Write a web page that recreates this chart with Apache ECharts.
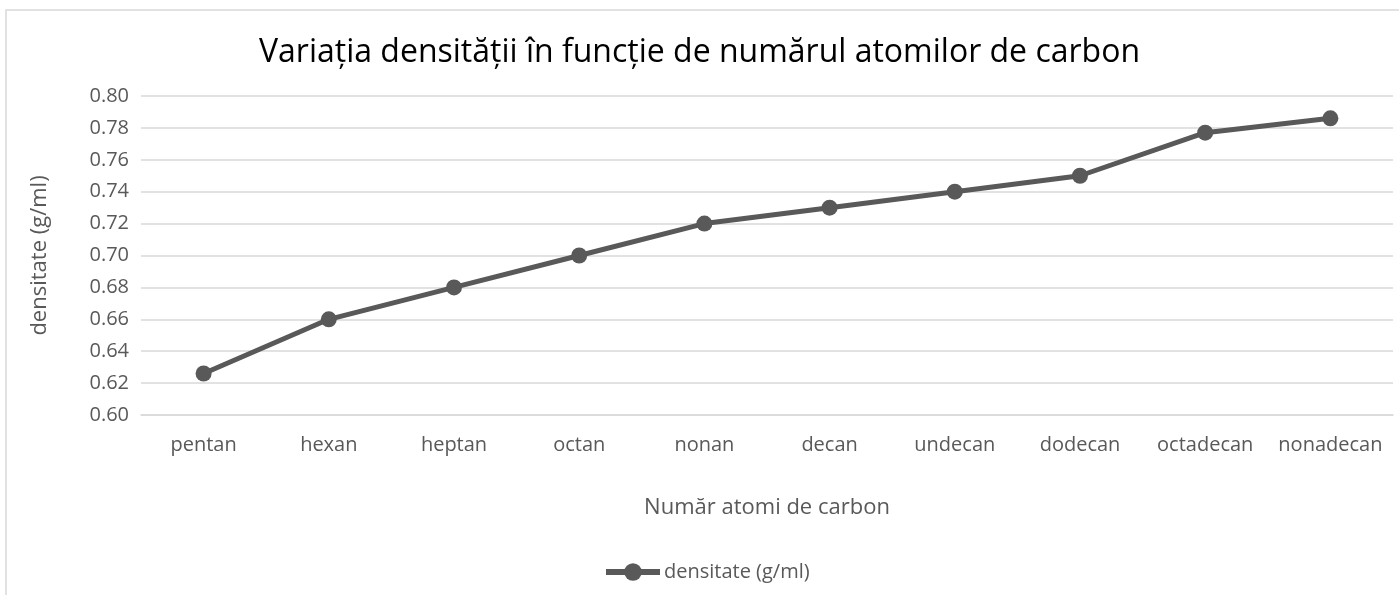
<!DOCTYPE html>
<html>
<head>
<meta charset="utf-8">
<script src="https://cdn.jsdelivr.net/npm/echarts@6/dist/echarts.min.js"></script>
<style>
  html, body { margin: 0; padding: 0; background: #fff; }
  #chart { width: 1399px; height: 595px; }
</style>
</head>
<body>
<div id="chart"></div>
<script>
// Alkanes and their density (g/ml)
const categories = ['pentan', 'hexan', 'heptan', 'octan', 'nonan', 'decan', 'undecan', 'dodecan', 'octadecan', 'nonadecan'];
const densities = [0.626, 0.66, 0.68, 0.70, 0.72, 0.73, 0.74, 0.75, 0.777, 0.786];
const seriesName = 'densitate (g/ml)';
const titleText = 'Variația densității în funcție de numărul atomilor de carbon';
const xAxisTitle = 'Număr atomi de carbon';
const yAxisTitle = 'densitate (g/ml)';

const FONT = '"Open Sans", "Noto Sans", sans-serif';
const TEXT = '#595959';
const GRID = '#d9d9d9';

const chart = echarts.init(document.getElementById('chart'), null, { renderer: 'canvas' });
chart.setOption({
  backgroundColor: '#ffffff',
  animation: false,
  graphic: [{
    type: 'rect',
    shape: { x: 6, y: 10, width: 1400, height: 600 },
    style: { fill: 'none', stroke: '#d9d9d9', lineWidth: 1.5 },
    silent: true
  }],
  title: {
    text: titleText,
    left: 'center',
    top: 32,
    textStyle: { fontFamily: FONT, fontWeight: 'normal', fontSize: 32, color: '#000' }
  },
  legend: {
    top: 557,
    left: 598,
    itemWidth: 54,
    itemHeight: 22,
    itemGap: 10,
    lineStyle: { width: 6, color: '#595959' },
    textStyle: { fontFamily: FONT, fontSize: 20, color: TEXT, padding: [0, 0, 0, -1] },
    data: [seriesName]
  },
  grid: { left: 141, right: 6, top: 96, bottom: 180, containLabel: false },
  xAxis: {
    type: 'category',
    data: categories,
    boundaryGap: true,
    name: xAxisTitle,
    nameLocation: 'middle',
    nameGap: 82,
    nameTextStyle: { fontFamily: FONT, fontSize: 22, color: TEXT },
    axisLine: { show: true, lineStyle: { color: GRID, width: 1.5 } },
    axisTick: { show: false },
    axisLabel: { interval: 0, fontFamily: FONT, fontSize: 20, color: TEXT, margin: 20 }
  },
  yAxis: {
    type: 'value',
    min: 0.60,
    max: 0.80,
    interval: 0.02,
    name: yAxisTitle,
    nameLocation: 'middle',
    nameGap: 90,
    nameRotate: 90,
    nameTextStyle: { fontFamily: FONT, fontSize: 22, color: TEXT },
    axisLine: { show: false },
    axisTick: { show: false },
    axisLabel: { fontFamily: FONT, fontSize: 20, color: TEXT, margin: 12, formatter: v => v.toFixed(2) },
    splitLine: { lineStyle: { color: GRID, width: 1.5 } }
  },
  series: [{
    name: seriesName,
    type: 'line',
    data: densities,
    symbol: 'circle',
    symbolSize: 16,
    lineStyle: { color: '#595959', width: 5 },
    itemStyle: { color: '#595959' }
  }]
});
</script>
</body>
</html>
